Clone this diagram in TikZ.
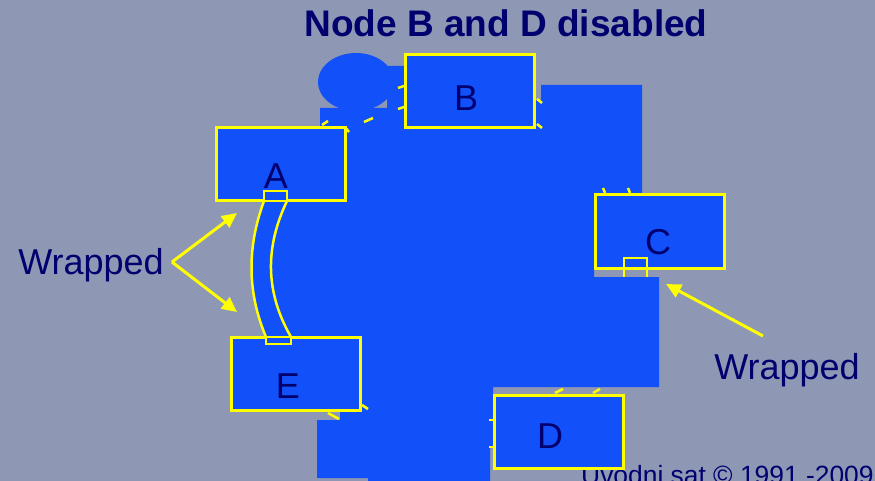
\documentclass[tikz,border=0pt]{standalone}
\usepackage{fontspec}
\setmainfont{Liberation Sans}
\usetikzlibrary{arrows.meta}
\definecolor{slide}{HTML}{8E97B4}
\definecolor{ring}{HTML}{1250FA}
\definecolor{ink}{HTML}{00006E}
\definecolor{wrapline}{HTML}{FFFF00}

\begin{document}
\begin{tikzpicture}[x=1pt, y=-1pt,
    station/.style = {rectangle, draw=wrapline, line width=3pt, fill=ring, minimum width=129pt, minimum height=73pt, inner sep=0pt},
    letter/.style = {text=ink, font=\fontsize{36}{40}\selectfont, inner sep=0pt, anchor=base},
    port/.style = {draw=wrapline, line width=2.5pt, fill=ring},
    tick/.style = {draw=wrapline, line width=2.5pt},
    pointer/.style = {draw=wrapline, line width=3pt, -{Triangle[length=15pt, width=14pt]}},
]

    % slide
    \useasboundingbox (0,0) rectangle (875,481);
    \fill[slide] (0,0) rectangle (875,481);
    \clip (0,0) rectangle (875,481);

    % title
    \node[letter, font=\fontsize{37}{40}\selectfont\bfseries] (title) at (506,37) {Node B and D disabled};

    % ring cover
    \fill[ring] (356,82) ellipse [x radius=38, y radius=29];
    \fill[ring] (320,108) -- (387,108) -- (387,66) -- (420,66) -- (420,100) -- (541,100) -- (541,85)
        -- (642,85) -- (642,230) -- (594,230) -- (594,277) -- (659,277) -- (659,387) -- (493,387)
        -- (493,448) -- (490,448) -- (490,481) -- (368,481) -- (368,478) -- (317,478) -- (317,420)
        -- (340,420) -- (340,400) -- (266,400) -- (266,337)
        .. controls (247,292) and (247,247) .. (264,201) -- (264,160) -- (320,160) -- cycle;

    % ring remnants
    \draw[tick] (398,88) -- (404,86);
    \draw[tick] (398,109) -- (404,107);
    \draw[tick] (322,125) -- (328,121);
    \draw[tick] (364,122) -- (373,118);
    \draw[tick] (345,127) -- (349,132);
    \draw[tick] (537,99) -- (542,103);
    \draw[tick] (537,124) -- (542,128);
    \draw[tick] (603,188) -- (605,193);
    \draw[tick] (628,188) -- (630,193);
    \draw[tick] (555,393) -- (563,389);
    \draw[tick] (593,393) -- (600,389);
    \draw[tick] (489,420) -- (493,420);
    \draw[tick] (489,447) -- (493,447);
    \draw[tick] (362,405) -- (368,409);
    \draw[tick] (328,413) -- (339,419);

    % footer
    \node[letter, anchor=base west, font=\fontsize{26.4}{30}\selectfont] (footer) at (581,484) {Uvodni sat © 1991.-2009};

    % stations
    \node[station] (A) at (281,164) {};
    \node[station] (B) at (469.5,91.5) {};
    \node[station] (C) at (660,231.5) {};
    \node[station] (D) at (559,432) {};
    \node[station] (E) at (295.5,374) {};

    % wrap between A and E
    \draw[wrapline, line width=2.5pt] (264,201) .. controls (247,247) and (247,292) .. (266,337);
    \draw[wrapline, line width=2.5pt] (287,201) .. controls (265,247) and (265,292) .. (291,337);
    \draw[port] (264,191) rectangle (287,201);
    \draw[port] (266,337) rectangle (291,344);

    % wrap at C
    \draw[wrapline, line width=2.5pt] (624,277) -- (624,258) -- (647,258) -- (647,277);

    % labels
    \node[letter] (la) at (276,189) {A};
    \node[letter] (lb) at (466,111) {B};
    \node[letter] (lc) at (658,254) {C};
    \node[letter] (ld) at (550,448) {D};
    \node[letter] (le) at (288,398) {E};

    % wrapped notes
    \node[letter] (wrapl) at (91,274) {Wrapped};
    \node[letter] (wrapr) at (787,379) {Wrapped};
    \coordinate (fork) at (172,262);
    \coordinate (wa) at (237,213);
    \coordinate (we) at (237,312);
    \coordinate (wr) at (763,336);
    \coordinate (wc) at (666,284);
    \draw[pointer] (fork) -- (wa);
    \draw[pointer] (fork) -- (we);
    \draw[pointer] (wr) -- (wc);

\end{tikzpicture}
\end{document}
